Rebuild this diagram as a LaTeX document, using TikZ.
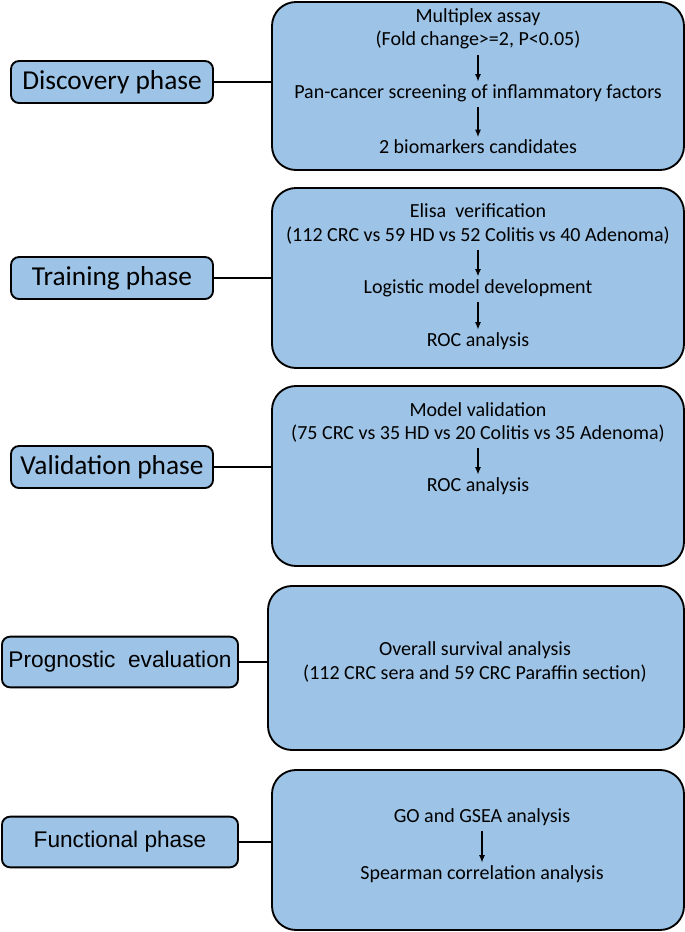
\documentclass[tikz,border=0pt]{standalone}
\usepackage{fontspec}
\setmainfont{Carlito}
\newfontfamily\arialfont{Liberation Sans}
\usepackage{xcolor}
\definecolor{color1}{HTML}{9DC3E6}
\usetikzlibrary{positioning,arrows.meta}

\begin{document}
\begin{tikzpicture}[x=0.75pt,y=-0.75pt,
    phasebox/.style={draw=black,line width=1.4pt,rounded corners=6pt,fill=color1,inner sep=0pt,minimum height=31.5pt},
    stagebox/.style={draw=black,line width=1.4pt,rounded corners=18pt,fill=color1,inner sep=0pt,minimum width=309pt},
    steptext/.style={inner sep=1pt,align=center,font=\fontsize{15}{17.5}\selectfont},
    flow/.style={-{Latex[length=5.5pt,width=4.5pt]},line width=0.9pt,shorten <=3pt,shorten >=1pt},
    link/.style={line width=1.4pt}]
    \useasboundingbox (0,0) rectangle (685,932);
    % Phase boxes on the right
    \node[stagebox,minimum height=126pt] (b1) at (478,86) {};
    \node[stagebox,minimum height=135pt] (b2) at (478,278) {};
    \node[stagebox,minimum height=135pt] (b3) at (478,476) {};
    \node[stagebox,minimum width=312pt,minimum height=123pt] (b4) at (476,668) {};
    \node[stagebox,minimum height=120pt] (b5) at (478,850) {};
    % Phase names on the left
    \node[phasebox,minimum width=151.5pt,font=\fontsize{20.5}{22}\selectfont] (l1) at (112,82) {Discovery phase};
    \node[phasebox,minimum width=151.5pt,font=\fontsize{20.5}{22}\selectfont] (l2) at (112,278) {Training phase};
    \node[phasebox,minimum width=151.5pt,font=\fontsize{20.5}{22}\selectfont] (l3) at (112,467) {Validation phase};
    \node[phasebox,minimum width=177pt,minimum height=38pt,font=\arialfont\fontsize{17}{19}\selectfont] (l4) at (120,662) {Prognostic\ \ evaluation};
    \node[phasebox,minimum width=177pt,minimum height=38pt,font=\arialfont\fontsize{17}{19}\selectfont] (l5) at (120,842) {Functional phase};
    \foreach \i in {1,...,5}
        \draw[link] (l\i.east) -- (l\i.east -| b\i.west);
    % Discovery
    \node[steptext] (d1) at (478,29) {Multiplex assay\\(Fold change>=2, P<0.05)};
    \node[steptext] (d2) at (478,93) {Pan-cancer screening of inflammatory factors};
    \node[steptext] (d3) at (478,147) {2 biomarkers candidates};
    \draw[flow] (d1.south) -- (d1.south |- d2.north);
    \draw[flow] (d2.south) -- (d2.south |- d3.north);
    % Training
    \node[steptext] (t1) at (478,224) {Elisa\ \ verification\\(112 CRC vs 59 HD vs 52 Colitis vs 40 Adenoma)};
    \node[steptext] (t2) at (478,288) {Logistic model development};
    \node[steptext] (t3) at (478,341) {ROC analysis};
    \draw[flow] (t1.south) -- (t1.south |- t2.north);
    \draw[flow] (t2.south) -- (t2.south |- t3.north);
    % Validation
    \node[steptext] (v1) at (478,422.5) {Model validation\\(75 CRC vs 35 HD vs 20 Colitis vs 35 Adenoma)};
    \node[steptext] (v2) at (478,486) {ROC analysis};
    \draw[flow] (v1.south) -- (v1.south |- v2.north);
    % Prognostic
    \node[steptext] (p1) at (475,662) {Overall survival analysis\\(112 CRC sera and 59 CRC Paraffin section)};
    % Functional
    \node[steptext] (f1) at (482,817) {GO and GSEA analysis};
    \node[steptext] (f2) at (482,874) {Spearman correlation analysis};
    \draw[flow] (f1.south) -- (f1.south |- f2.north);
\end{tikzpicture}
\end{document}
